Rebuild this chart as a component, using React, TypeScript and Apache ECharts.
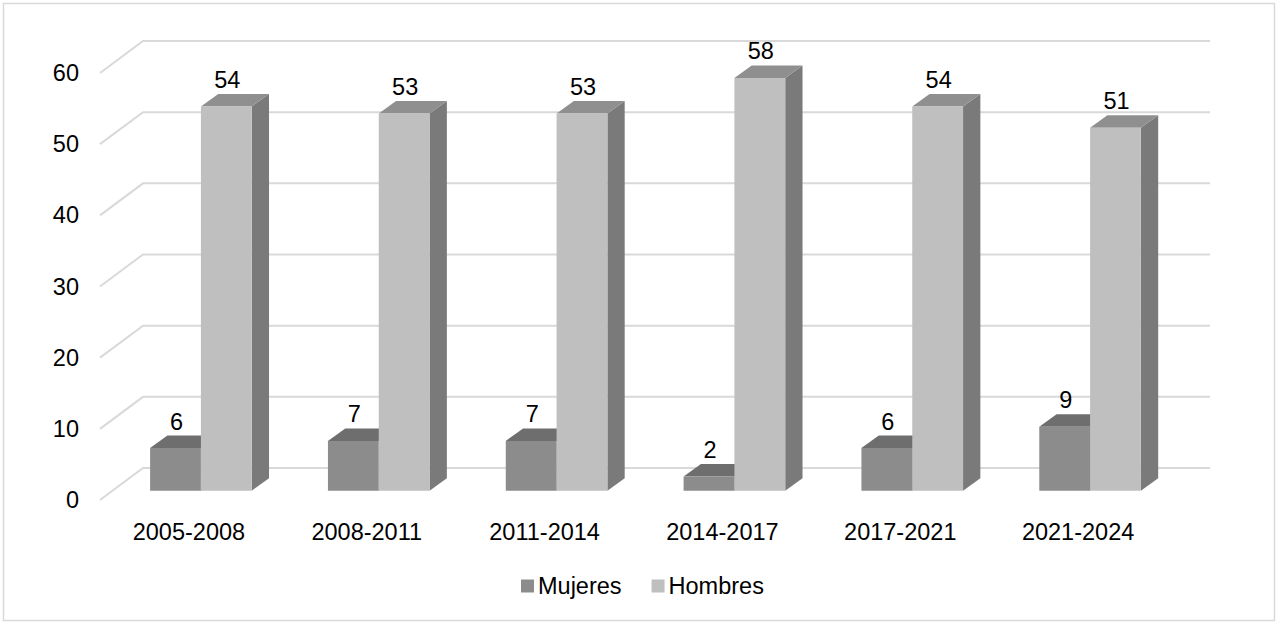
import React, { useEffect, useRef } from "react";
import * as echarts from "echarts";

const categories = ["2005-2008", "2008-2011", "2011-2014", "2014-2017", "2017-2021", "2021-2024"];
const mujeres = [6, 7, 7, 2, 6, 9];
const hombres = [54, 53, 53, 58, 54, 51];
const yTicks = [0, 10, 20, 30, 40, 50, 60];

const FONT = "Arial, 'Liberation Sans', sans-serif";
const FS = 23.5;

// perspective offsets
const BACK_DX = 43;
const BACK_DY = -32;
const BAR_FX = 12;
const BAR_FY = -9.3;
const BAR_DX = 17.3;
const BAR_DY = -12.5;

const COLORS = {
  mujeres: { front: "#8c8c8c", top: "#6e6e6e", side: "#6a6a6a", legend: "#8c8c8c" },
  hombres: { front: "#bfbfbf", top: "#8f8f8f", side: "#7a7a7a", legend: "#bfbfbf" },
};

function makeBarRender(which: "mujeres" | "hombres") {
  const col = COLORS[which];
  return (params: any, api: any) => {
    const i = api.value(0);
    const v = api.value(1);
    const base = api.coord([i, 0]);
    const top = api.coord([i, v]);
    const band = api.size([1, 0])[0];
    const w = band / 3.5;
    const cx = base[0] + BAR_FX;
    const x0 = which === "mujeres" ? cx - w : cx;
    const x1 = x0 + w;
    const yb = base[1] + BAR_FY;
    const yt = top[1] + BAR_FY;
    const children: any[] = [
      {
        type: "polygon",
        shape: { points: [[x1, yb], [x1 + BAR_DX, yb + BAR_DY], [x1 + BAR_DX, yt + BAR_DY], [x1, yt]] },
        style: { fill: col.side },
      },
      {
        type: "polygon",
        shape: { points: [[x0, yt], [x1, yt], [x1 + BAR_DX, yt + BAR_DY], [x0 + BAR_DX, yt + BAR_DY]] },
        style: { fill: col.top },
      },
      {
        type: "rect",
        shape: { x: x0, y: yt, width: w, height: yb - yt },
        style: { fill: col.front },
      },
      {
        type: "text",
        style: {
          text: String(v),
          x: (x0 + x1) / 2 + 1,
          y: yt + BAR_DY - 2,
          align: "center",
          verticalAlign: "bottom",
          fontSize: FS,
          fontFamily: FONT,
          fill: "#000000",
        },
      },
    ];
    return { type: "group", children };
  };
}

function gridRender(params: any, api: any) {
  const v = api.value(0);
  const cs = params.coordSys;
  const p = api.coord([0, v]);
  const y = p[1];
  const x = cs.x;
  return {
    type: "polyline",
    shape: {
      points: [
        [x, y],
        [x + BACK_DX, y + BACK_DY],
        [x + cs.width + BACK_DX, y + BACK_DY],
      ],
    },
    style: { stroke: "#d9d9d9", lineWidth: 2, fill: "none" },
  };
}

export default function App() {
  const ref = useRef<HTMLDivElement>(null);
  useEffect(() => {
    if (!ref.current) return;
    const chart = echarts.init(ref.current, undefined, { renderer: "svg" });
    chart.setOption({
      animation: false,
      backgroundColor: "#ffffff",
      graphic: [
        {
          type: "rect",
          shape: { x: 3.5, y: 3.5, width: 1271, height: 617 },
          style: { fill: "none", stroke: "#d9d9d9", lineWidth: 1.5 },
          silent: true,
          z: -10,
        },
      ],
      legend: {
        data: ["Mujeres", "Hombres"],
        left: 516,
        top: 569,
        itemWidth: 13,
        itemHeight: 13,
        itemGap: 30,
        icon: "rect",
        textStyle: { fontSize: FS, fontFamily: FONT, color: "#000000", padding: [0, 0, 0, -1] },
      },
      grid: { left: 100, right: 110, top: 73, bottom: 123, containLabel: false },
      xAxis: {
        type: "category",
        data: categories,
        axisLine: { show: false },
        axisTick: { show: false },
        axisLabel: { fontSize: FS, fontFamily: FONT, color: "#000000", margin: 20, interval: 0 },
      },
      yAxis: {
        type: "value",
        min: 0,
        max: 60,
        interval: 10,
        axisLine: { show: false },
        axisTick: { show: false },
        splitLine: { show: false },
        axisLabel: { fontSize: FS, fontFamily: FONT, color: "#000000", margin: 21 },
      },
      series: [
        {
          type: "custom",
          name: "grid",
          renderItem: gridRender,
          data: yTicks.map((t) => [t]),
          encode: { y: 0 },
          silent: true,
          z: 1,
        },
        {
          type: "custom",
          name: "Mujeres",
          renderItem: makeBarRender("mujeres"),
          data: mujeres.map((v, i) => [i, v]),
          encode: { x: 0, y: 1 },
          itemStyle: { color: COLORS.mujeres.legend },
          z: 2,
        },
        {
          type: "custom",
          name: "Hombres",
          renderItem: makeBarRender("hombres"),
          data: hombres.map((v, i) => [i, v]),
          encode: { x: 0, y: 1 },
          itemStyle: { color: COLORS.hombres.legend },
          z: 3,
        },
      ],
    });
    return () => chart.dispose();
  }, []);
  return (
    <div
      ref={ref}
      style={{ position: "fixed", left: 0, top: 0, width: 1277, height: 623 }}
    />
  );
}
